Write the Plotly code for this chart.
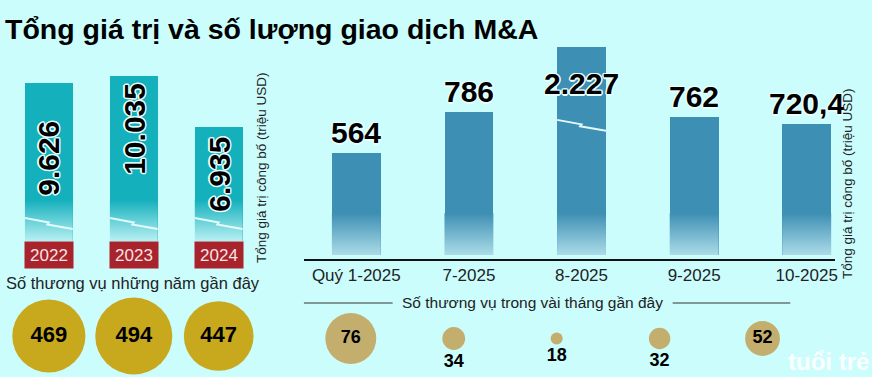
import plotly.graph_objects as go

# ---------------- data ----------------
years = ["2022", "2023", "2024"]
year_values = [9626, 10035, 6935]
year_deals = [469, 494, 447]

months = ["Quý 1-2025", "7-2025", "8-2025", "9-2025", "10-2025"]
month_values = [564, 786, 2227, 762, 720.4]
month_deals = [76, 34, 18, 32, 52]

title = "Tổng giá trị và số lượng giao dịch M&A"
axis_title = "Tổng giá trị công bố (triệu USD)"
years_caption = "Số thương vụ những năm gần đây"
months_caption = "Số thương vụ trong vài tháng gần đây"

# ---------------- layout helpers ----------------
W, H = 872, 377
BG = "#cbfdfd"
def px(x):
    return x / W
def py(y):
    return 1 - y / H

def vn(v):
    if float(v).is_integer():
        return f"{int(v):,}".replace(",", ".")
    s = f"{v:,.1f}"
    return s.replace(",", "X").replace(".", ",").replace("X", ".")

SANS = "Liberation Sans, Arial, sans-serif"
OUTLINE = ("1.5px 0 #e6ffff, -1.5px 0 #e6ffff, 0 1.5px #e6ffff, 0 -1.5px #e6ffff, "
           "1px 1px #e6ffff, -1px -1px #e6ffff, 1px -1px #e6ffff, -1px 1px #e6ffff")

fig = go.Figure()

# ---------------- left bars ----------------
L_W = 0.563
L_TOP = 11008
fig.add_trace(go.Bar(x=list(range(len(years))), y=year_values, width=L_W,
                     marker=dict(color="#14b0bc", line=dict(width=0)),
                     xaxis="x", yaxis="y", showlegend=False, hoverinfo="skip"))
L_GRAD = 2500
gx, gy = [], []
for i in range(len(years)):
    gx += [i - L_W / 2, i - L_W / 2, i + L_W / 2, i + L_W / 2, i - L_W / 2, None]
    gy += [0, L_GRAD, L_GRAD, 0, 0, None]
fig.add_trace(go.Scatter(x=gx, y=gy, mode="none", fill="toself",
                         fillgradient=dict(type="vertical", start=0, stop=L_GRAD,
                                           colorscale=[[0, "#b8f0f3"], [1, "#14b0bc"]]),
                         xaxis="x", yaxis="y", showlegend=False, hoverinfo="skip"))
L_SCALE = 0.016443  # px per unit
def bolt(i, w, ybase, scale):
    pts = [(0, 0), (0.5, 4.5), (0.47, 6.5), (1.0, 11)]
    return ([i - w / 2 + f * w for f, _ in pts], [ybase - d / scale for _, d in pts])
bx, by = [], []
for i in range(len(years)):
    xx, yy = bolt(i, L_W, 1400, L_SCALE)
    bx += xx + [None]
    by += yy + [None]
fig.add_trace(go.Scatter(x=bx, y=by, mode="lines", line=dict(color="rgba(235,255,255,0.9)", width=2),
                         xaxis="x", yaxis="y", showlegend=False, hoverinfo="skip"))

left_label_y = [5050, 6810, 4075]
annotations = []
for i, (yr, v) in enumerate(zip(years, year_values)):
    annotations.append(dict(x=i, y=left_label_y[i], xref="x", yref="y", text=f"<b>{vn(v)}</b>",
                            textangle=-90, showarrow=False, xanchor="center", yanchor="middle",
                            font=dict(family=SANS, size=30, color="#000", shadow=OUTLINE)))
    annotations.append(dict(x=i, y=0, xref="x", yref="y", xanchor="center", yanchor="top", text=yr,
                            showarrow=False, width=48, height=26, borderpad=0,
                            bgcolor="#a8232b", font=dict(family=SANS, size=17, color="#f7e4e4")))

# ---------------- right bars ----------------
R_W = 0.434
R_SCALE = 0.1814
fig.add_trace(go.Bar(x=list(range(len(months))), y=month_values, width=R_W,
                     marker=dict(color="#3e8fb4", line=dict(width=0)),
                     xaxis="x2", yaxis="y2", showlegend=False, hoverinfo="skip"))
R_GRAD = 230
gx, gy = [], []
for i in range(len(months)):
    gx += [i - R_W / 2, i - R_W / 2, i + R_W / 2, i + R_W / 2, i - R_W / 2, None]
    gy += [0, R_GRAD, R_GRAD, 0, 0, None]
fig.add_trace(go.Scatter(x=gx, y=gy, mode="none", fill="toself",
                         fillgradient=dict(type="vertical", start=0, stop=R_GRAD,
                                           colorscale=[[0, "#acdce8"], [1, "#3e8fb4"]]),
                         xaxis="x2", yaxis="y2", showlegend=False, hoverinfo="skip"))
R_TOP = 1146.6
bx, by = [], []
for i, v in enumerate(month_values):
    if v > R_TOP:
        xx, yy = bolt(i, R_W, 745, R_SCALE)
        bx += xx + [None]
        by += yy + [None]
fig.add_trace(go.Scatter(x=bx, y=by, mode="lines", line=dict(color="rgba(235,255,255,0.95)", width=2),
                         xaxis="x2", yaxis="y2", showlegend=False, hoverinfo="skip"))
R_LABEL_CAP = 830
for i, v in enumerate(month_values):
    annotations.append(dict(x=i, y=min(v, R_LABEL_CAP), xref="x2", yref="y2", xanchor="center",
                            yanchor="bottom", yshift=2, text=f"<b>{vn(v)}</b>", showarrow=False,
                            font=dict(family=SANS, size=30, color="#000", shadow=OUTLINE)))

# ---------------- circles ----------------
fig.add_trace(go.Scatter(x=list(range(len(years))), y=[0] * len(years), mode="markers+text",
                         marker=dict(size=[v * 0.156 for v in year_deals], sizemode="diameter",
                                     color="#c8a91e", line=dict(width=0), opacity=1),
                         text=[f"<b>{v}</b>" for v in year_deals], textposition="middle center",
                         textfont=dict(family=SANS, size=22, color="#000"),
                         xaxis="x3", yaxis="y3", showlegend=False, hoverinfo="skip"))
m_sizes = [v * 0.67 for v in month_deals]
fig.add_trace(go.Scatter(x=list(range(len(months))), y=[0] * len(months), mode="markers+text",
                         marker=dict(size=m_sizes, sizemode="diameter",
                                     color="#c3ae6d", line=dict(width=0), opacity=1),
                         text=[f"<b>{v}</b>" for v in month_deals],
                         textposition=["middle center" if s > 30 else "bottom center" for s in m_sizes],
                         textfont=dict(family=SANS, size=18, color="#000"),
                         xaxis="x4", yaxis="y4", showlegend=False, hoverinfo="skip"))

# ---------------- texts ----------------
annotations += [
    dict(x=px(831), y=py(361), xref="paper", yref="paper", xanchor="center", yanchor="middle",
         text="<b>tuổi trẻ</b>", showarrow=False,
         font=dict(family=SANS, size=24, color="rgba(255,255,255,0.95)")),
    dict(x=px(3), y=py(29), xref="paper", yref="paper", xanchor="left", yanchor="middle",
         text=f"<b>{title}</b>", showarrow=False,
         font=dict(family=SANS, size=28.5, color="#000")),
    dict(x=px(262), y=py(168), xref="paper", yref="paper", xanchor="center", yanchor="middle",
         text=axis_title, textangle=-90,
         showarrow=False, font=dict(family=SANS, size=13.5, color="#222")),
    dict(x=px(851), y=py(184), xref="paper", yref="paper", xanchor="center", yanchor="middle",
         text=axis_title, textangle=-90,
         showarrow=False, font=dict(family=SANS, size=13.5, color="#222")),
    dict(x=px(133), y=py(283), xref="paper", yref="paper", xanchor="center", yanchor="middle",
         text=years_caption,
         showarrow=False, font=dict(family=SANS, size=16.5, color="#222")),
    dict(x=px(534), y=py(302), xref="paper", yref="paper", xanchor="center", yanchor="middle",
         text=months_caption,
         showarrow=False, font=dict(family=SANS, size=15.5, color="#222")),
]

shapes = [
    dict(type="line", xref="paper", yref="paper", x0=px(305), x1=px(394), y0=py(303), y1=py(303),
         line=dict(color="#333", width=1)),
    dict(type="line", xref="paper", yref="paper", x0=px(675), x1=px(793), y0=py(303), y1=py(303),
         line=dict(color="#333", width=1)),
]

hidden = dict(visible=False, fixedrange=True)
fig.update_layout(
    width=W, height=H, margin=dict(l=0, r=0, t=0, b=0),
    paper_bgcolor=BG, plot_bgcolor="rgba(0,0,0,0)", bargap=0,
    xaxis=dict(domain=[0, px(262)], range=[-0.575, 2.499], **hidden),
    yaxis=dict(domain=[py(241), py(60)], range=[0, L_TOP], **hidden),
    xaxis2=dict(domain=[px(305), px(838)], range=[-0.465, 4.252], showline=True,
                linecolor="#111", linewidth=1.5, showgrid=False, zeroline=False,
                tickmode="array", tickvals=list(range(len(months))), ticktext=months,
                ticks="", ticklen=0, tickfont=dict(family=SANS, size=17, color="#222"),
                fixedrange=True, anchor="y2", layer="above traces"),
    yaxis2=dict(domain=[py(259), py(47)], range=[-22, R_TOP], anchor="x2", **hidden),
    xaxis3=dict(domain=[0, px(262)], range=[-0.575, 2.499], anchor="y3", **hidden),
    yaxis3=dict(domain=[0, py(295)], range=[-1, 1], anchor="x3", **hidden),
    xaxis4=dict(domain=[px(305), px(838)], range=[-0.455, 4.705], anchor="y4", **hidden),
    yaxis4=dict(domain=[0, py(300)], range=[-1, 1], anchor="x4", **hidden),
    annotations=annotations, shapes=shapes,
)

fig.write_html("out.html", config={"displayModeBar": False},
               post_script="document.body.style.margin='0';document.body.style.overflow='hidden';")
